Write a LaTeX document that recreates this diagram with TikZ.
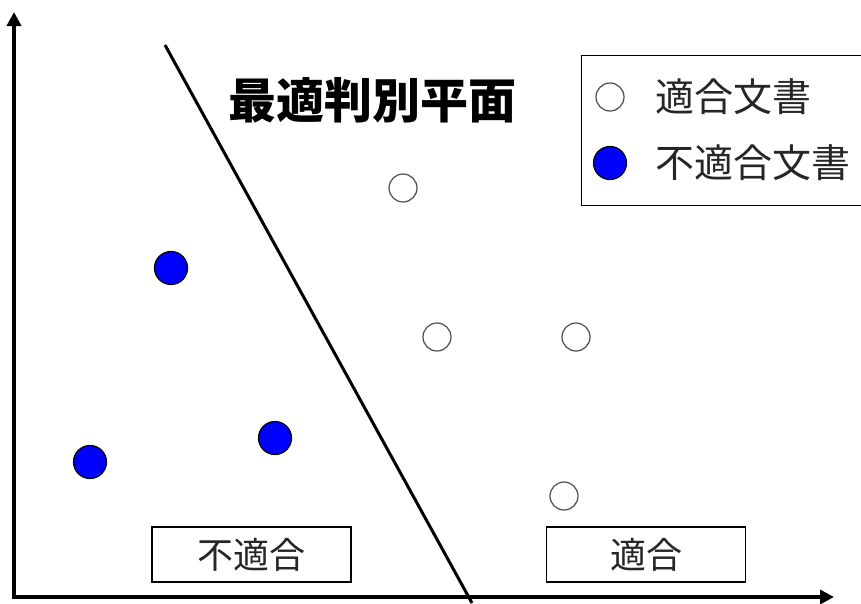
\documentclass[tikz,border=0pt]{standalone}
\usepackage{fontspec}
\newfontfamily\cjk{Noto Sans CJK JP}
\usetikzlibrary{arrows.meta}
\definecolor{dotblue}{RGB}{0,0,255}
\tikzset{
  axis/.style={line width=4pt,-{Triangle[length=14pt,width=14pt]}},
  good/.style={circle,draw=black!70,line width=1.2pt,fill=white,minimum size=28pt,inner sep=0pt},
  bad/.style={circle,draw=black,line width=1.2pt,fill=dotblue,minimum size=33pt,inner sep=0pt},
  lbl/.style={font=\cjk\fontsize{39}{39}\selectfont,text=black!85,inner sep=0pt},
  regionbox/.style={draw,line width=1.2pt,minimum width=199pt,minimum height=55pt,inner sep=0pt,font=\cjk\fontsize{36}{36}\selectfont,text=black!85}
}
\begin{document}
\begin{tikzpicture}[x=1pt,y=-1pt]
\useasboundingbox (0,0) rectangle (861,603);
\coordinate (o) at (14,597);
\coordinate (ytip) at (14,12);
\coordinate (xtip) at (834,597);
\draw[axis] (o) -- (ytip);
\draw[axis] ([xshift=-2pt]o) -- (xtip);
\coordinate (ltop) at (165,45);
\coordinate (lbot) at (472,603);
\draw[line width=3pt] (ltop) -- (lbot);
\node[font=\cjk\bfseries\fontsize{48}{48}\selectfont] (title) at (372,100) {最適判別平面};
\node[draw,line width=1.2pt,minimum width=290pt,minimum height=150pt,anchor=north west,inner sep=0pt] (legend) at (581,55) {};
\node[good] (lg) at (610,97) {};
\node[lbl,anchor=west] (lgt) at (655,97) {適合文書};
\node[bad] (lb) at (610,163) {};
\node[lbl,anchor=west] (lbt) at (655,163) {不適合文書};
\node[good] (g1) at (403,188) {};
\node[good] (g2) at (437,337) {};
\node[good] (g3) at (576,337) {};
\node[good] (g4) at (564,496) {};
\node[bad] (b1) at (171,268) {};
\node[bad] (b2) at (275,438) {};
\node[bad] (b3) at (90,462) {};
\node[regionbox] (neg) at (251.5,554.5) {不適合};
\node[regionbox] (pos) at (646,554.5) {適合};
\end{tikzpicture}
\end{document}
